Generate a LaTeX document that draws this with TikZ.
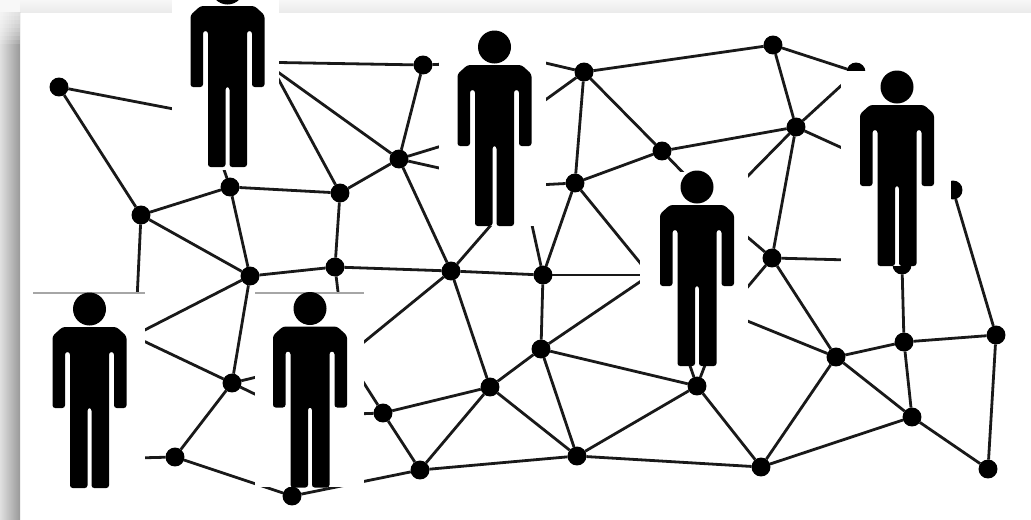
\documentclass[tikz,border=0pt]{standalone}
\tikzset{
  dotn/.style={circle,fill=black,draw=none,minimum size=14.2pt,inner sep=0pt,outer sep=0pt},
  linkn/.style={draw=netc,line width=2.1pt},
  cover/.style={fill=white,draw=none},
  person/.pic={
    \fill[black] (0,0) circle (16.5);
    \fill[black,rounded corners=2pt] (-27,18) -- (27,18) -- (37,27) -- (37,99) -- (24.5,99) -- (24.5,43) -- (19.5,43) -- (19.5,179)
      -- (2,179) -- (2,99) -- (-2,99) -- (-2,179) -- (-19.5,179) -- (-19.5,43) -- (-24.5,43) -- (-24.5,99) -- (-37,99) -- (-37,27) -- cycle;
  }
}
\colorlet{netc}{black!90}
\begin{document}
\begin{tikzpicture}[x=0.75pt,y=-0.75pt]
\useasboundingbox (0,0) rectangle (1031,519);
\clip (0,0) rectangle (1031,519);
% slide and its shadow
\fill[white] (0,0) rectangle (1031,519);
\shade[top color=black!3,bottom color=black!8] (0,0) rectangle (1031,12);
\shade[left color=black!12,right color=black!40] (0,12) rectangle (20,519);
\foreach \i in {1,...,8}{\fill[white,opacity=0.14] (0,0) rectangle (20,12+4*\i);}
% network nodes
\foreach \n/\x/\y in {a/59/87,b/141/215,c/230/187,d/340/193,e/250/276,f/335/267,g/399/159,h/423/65,
  i/451/271,j/543/275,k/575/183,l/584/72,m/662/151,n/773/45,o/796/127,p/856/72,q/772/258,r/902/265,
  s/953/190,t/996/335,u/904/342,v/836/357,w/912/417,x/988/469,y/761/467,z/697/386,aa/577/456,ab/541/349,
  ac/490/387,ad/420/470,ae/383/413,af/292/496,ag/175/457,ah/232/383}
  {\node[dotn] (\n) at (\x,\y) {};}
% free ends, hidden under the figures
\foreach \n/\x/\y in {pa/205/115,pb/250/62,pc/250/52,pd/255/36,
  qa/448/144,qb/448/170,qc/448/64,qd/537/61,qe/537/106,qf/537/185,qg/498/217,qh/530/216,
  ra/650/275,rb/692/182,rc/738/186,rd/738/229,re/740/296,rf/740/318,rg/688/360,rh/707/360,
  sa/850/260,sb/851/152,
  ta/133/336,tb/137/300,tc/135/458,
  ua/265/375,ub/265/399,uc/339/300,ud/354/414,ue/353/351,uf/353/366}
  {\coordinate (\n) at (\x,\y);}
% connectors
\foreach \s/\t in {a/b,a/pa,c/pa,pb/h,pc/g,pd/d,b/c,c/d,b/e,c/e,d/f,e/f,d/g,g/h,g/i,f/i,i/j,
  g/qa,g/qb,h/qc,l/qd,l/qe,k/qf,i/qg,j/qh,
  l/n,l/k,l/m,k/m,k/j,m/o,n/o,n/p,o/p,o/q,o/sb,o/rc,q/sa,q/rd,q/re,q/v,m/rb,
  k/ra,j/ra,ab/ra,j/ab,v/rf,z/rg,z/rh,u/r,u/v,u/t,u/w,t/s,t/x,w/x,v/w,v/y,w/y,y/z,y/aa,z/aa,z/ab,
  ab/ac,ab/aa,ac/aa,ac/ad,ac/ae,ac/i,ad/aa,ad/ae,ad/af,ag/af,ag/tc,ag/ah,ah/e,ah/ta,e/ta,b/tb,
  ah/ua,ah/ub,f/uc,ae/ud,i/ue,ae/uf}
  {\draw[linkn] (\s) -- (\t);}
% figures on their white panels
\fill[cover] (172,0) rectangle (279,170);
\pic at (227.5,-12) {person};
\fill[cover] (439,30) rectangle (546,226);
\pic at (494.5,47) {person};
\fill[cover] (640,172) rectangle (748,366);
\pic at (697,187) {person};
\fill[cover] (841,71) rectangle (951,266);
\pic at (897,87) {person};
\fill[cover] (33,293) rectangle (145,488);
\draw[black!35,line width=1pt] (33,293) -- (145,293);
\pic at (89.5,309) {person};
\fill[cover] (255,293) rectangle (364,487);
\draw[black!35,line width=1pt] (255,293) -- (364,293);
\pic at (310,308.5) {person};
\end{tikzpicture}
\end{document}
